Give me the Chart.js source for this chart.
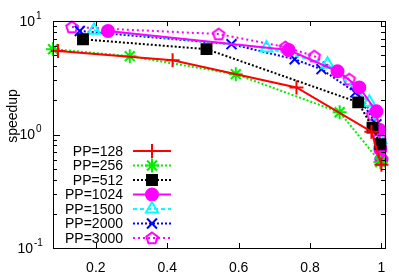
<!DOCTYPE html>
<html>
<head>
<meta charset="utf-8">
<script src="https://cdn.jsdelivr.net/npm/chart.js@4.4.1/dist/chart.umd.min.js"></script>
<style>
  body { margin: 0; background: #fff; }
</style>
</head>
<body>
<canvas id="chart" width="399" height="279"></canvas>
<script>
// series labels
const seriesNames = ['PP=128', 'PP=256', 'PP=512', 'PP=1024', 'PP=1500', 'PP=2000', 'PP=3000'];

// x values (fraction) and speedup for every series
const x128 = [0.094, 0.415, 0.762, 0.972, 1.0];
const y128 = [5.43, 4.5, 2.6, 1.06, 0.54];

const x256 = [0.08, 0.295, 0.592, 0.883, 0.997];
const y256 = [5.65, 4.9, 3.4, 1.57, 0.57];

const x512 = [0.164, 0.51, 0.935, 0.975, 0.997];
const y512 = [6.9, 5.65, 1.92, 1.15, 0.82];

const x1024 = [0.234, 0.74, 0.877, 0.938, 0.986, 0.994, 0.997, 1.0];
const y1024 = [8.16, 5.55, 3.6, 2.6, 1.6, 1.1, 0.74, 0.6];

const x1500 = [0.195, 0.678, 0.849, 0.966, 0.997, 1.0];
const y1500 = [8.3, 5.77, 4.16, 1.92, 0.9, 0.66];

const x2000 = [0.155, 0.58, 0.757, 0.832, 0.927, 0.986, 0.997, 1.0];
const y2000 = [8.16, 6.25, 4.6, 3.76, 2.35, 1.23, 0.82, 0.66];

const x3000 = [0.133, 0.544, 0.731, 0.812, 0.91, 0.975, 0.994, 0.997, 1.0];
const y3000 = [8.85, 7.67, 5.9, 4.9, 3.07, 1.5, 0.94, 0.77, 0.61];

// tick values
const xTicks = [0.2, 0.4, 0.6, 0.8, 1];
const yTicks = [0.1, 1, 10];
const yTickExp = ['-1', '0', '1'];

const FONT = '"Liberation Sans", Arial, sans-serif';

function pts(xs, ys) {
  return xs.map((x, i) => ({ x: x, y: ys[i] }));
}

// pentagon marker (no built-in style for it)
function pentagon(color) {
  const c = document.createElement('canvas');
  c.width = 16; c.height = 16;
  const g = c.getContext('2d');
  g.strokeStyle = color;
  g.lineWidth = 2;
  g.beginPath();
  for (let i = 0; i < 5; i++) {
    const a = -Math.PI / 2 + i * 2 * Math.PI / 5;
    const px = 8 + 6 * Math.cos(a), py = 8.5 + 6 * Math.sin(a);
    if (i === 0) g.moveTo(px, py); else g.lineTo(px, py);
  }
  g.closePath();
  g.stroke();
  return c;
}

const styles = [
  { color: '#ff0000', dash: [], point: 'cross', radius: 7, fill: false },
  { color: '#00ee00', dash: [2, 2], point: 'star', radius: 7, fill: false },
  { color: '#000000', dash: [2, 2], point: 'rect', radius: 7, fill: true },
  { color: '#ff00ff', dash: [], point: 'circle', radius: 6, fill: true },
  { color: '#00ffff', dash: [4, 3], point: 'triangle', radius: 7, fill: false },
  { color: '#0000ff', dash: [2, 2], point: 'crossRot', radius: 7, fill: false },
  { color: '#ff00ff', dash: [2, 3], point: pentagon('#ff00ff'), radius: 7, fill: false }
];

const allX = [x128, x256, x512, x1024, x1500, x2000, x3000];
const allY = [y128, y256, y512, y1024, y1500, y2000, y3000];

const datasets = seriesNames.map((name, i) => ({
  label: name,
  data: pts(allX[i], allY[i]),
  showLine: true,
  borderColor: styles[i].color,
  backgroundColor: styles[i].fill ? styles[i].color : 'rgba(0,0,0,0)',
  borderDash: styles[i].dash,
  borderWidth: 2,
  pointStyle: styles[i].point,
  pointRadius: styles[i].radius,
  pointBorderWidth: 2,
  pointBorderColor: styles[i].color,
  pointBackgroundColor: styles[i].fill ? styles[i].color : 'rgba(0,0,0,0)',
  clip: false
}));

// box, inward ticks, y labels, legend
const gnuplotLook = {
  id: 'gnuplotLook',
  afterDraw(chart) {
    const ctx = chart.ctx;
    const a = chart.chartArea;
    const xs = chart.scales.x, ys = chart.scales.y;
    ctx.save();
    ctx.strokeStyle = '#000';
    ctx.lineWidth = 1;
    ctx.setLineDash([]);
    ctx.strokeRect(a.left + 0.5, a.top + 0.5, a.right - a.left, a.bottom - a.top);

    ctx.beginPath();
    xTicks.forEach(v => {
      const px = Math.round(xs.getPixelForValue(v)) + 0.5;
      ctx.moveTo(px, a.bottom); ctx.lineTo(px, a.bottom - 5);
      ctx.moveTo(px, a.top); ctx.lineTo(px, a.top + 5);
    });
    for (let d = 0.1; d < 10; d *= 10) {
      for (let m = 1; m <= 10; m++) {
        const v = d * m;
        if (v > 10.001) break;
        const py = Math.round(ys.getPixelForValue(v)) + 0.5;
        const len = (m === 1 || m === 10) ? 7 : 4;
        ctx.moveTo(a.left, py); ctx.lineTo(a.left + len, py);
        ctx.moveTo(a.right, py); ctx.lineTo(a.right - len, py);
      }
    }
    ctx.stroke();

    // y tick labels 10^n
    ctx.fillStyle = '#000';
    yTicks.forEach((v, i) => {
      const py = ys.getPixelForValue(v);
      ctx.font = '14px ' + FONT;
      ctx.textAlign = 'right';
      ctx.textBaseline = 'middle';
      const right = yTickExp[i] === '-1' ? 33 : 35;
      ctx.fillText('10', right, py + 1);
      ctx.font = '10px ' + FONT;
      ctx.textAlign = 'left';
      ctx.fillText(yTickExp[i], right + 1, py - 5);
    });

    // y axis title
    ctx.save();
    ctx.translate(13, 116);
    ctx.rotate(-Math.PI / 2);
    ctx.font = '14px ' + FONT;
    ctx.textAlign = 'center';
    ctx.textBaseline = 'middle';
    ctx.fillText('speedup', 0, 0);
    ctx.restore();

    // legend
    chart.data.datasets.forEach((ds, i) => {
      const rowY = 151 + i * 14.5;
      ctx.font = '14px ' + FONT;
      ctx.textAlign = 'right';
      ctx.textBaseline = 'middle';
      ctx.fillStyle = '#000';
      ctx.fillText(ds.label, 123, rowY + 1);
      ctx.strokeStyle = ds.borderColor;
      ctx.lineWidth = 2;
      ctx.setLineDash(ds.borderDash);
      ctx.beginPath();
      ctx.moveTo(133, rowY); ctx.lineTo(171, rowY);
      ctx.stroke();
      ctx.setLineDash([]);
      ctx.fillStyle = ds.pointBackgroundColor;
      ctx.strokeStyle = ds.pointBorderColor;
      Chart.helpers.drawPoint(ctx, {
        pointStyle: ds.pointStyle,
        radius: ds.pointRadius,
        borderWidth: 2
      }, 152, rowY);
    });
    ctx.restore();
  }
};

new Chart(document.getElementById('chart'), {
  type: 'scatter',
  data: { datasets: datasets },
  options: {
    responsive: false,
    animation: false,
    layout: { padding: { top: 21, right: 14, left: 0, bottom: 0 } },
    plugins: {
      legend: { display: false },
      tooltip: { enabled: false }
    },
    scales: {
      x: {
        type: 'linear',
        min: 0.08,
        max: 1.01,
        grid: { display: false },
        border: { display: false },
        afterBuildTicks: s => { s.ticks = xTicks.map(v => ({ value: v })); },
        afterFit: s => { s.height = 31; },
        ticks: {
          padding: 4,
          color: '#000',
          font: { family: FONT, size: 14 },
          callback: v => String(v)
        }
      },
      y: {
        type: 'logarithmic',
        min: 0.1,
        max: 10,
        grid: { display: false },
        border: { display: false },
        afterBuildTicks: s => { s.ticks = yTicks.map(v => ({ value: v })); },
        afterFit: s => { s.width = 53; },
        ticks: { display: false }
      }
    }
  },
  plugins: [gnuplotLook]
});
</script>
</body>
</html>
